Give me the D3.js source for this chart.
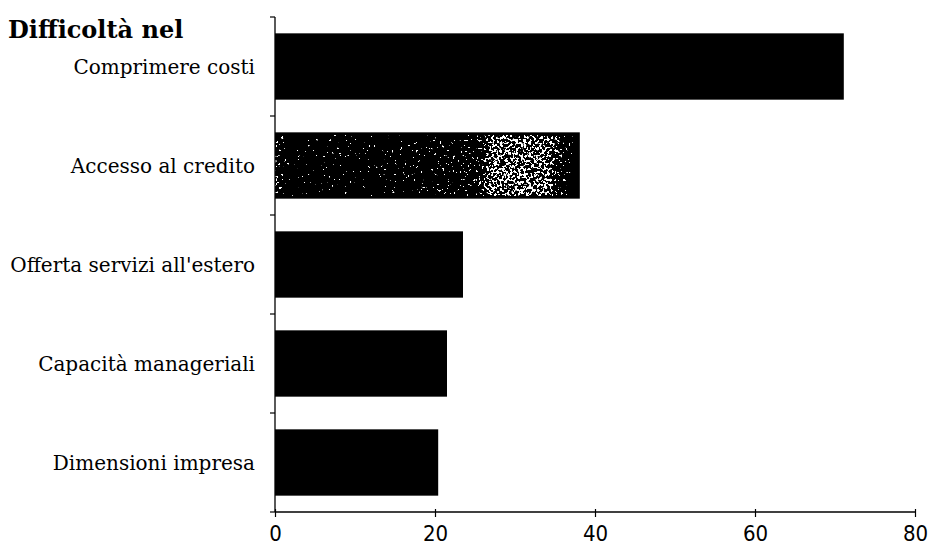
<!DOCTYPE html>
<html>
<head>
<meta charset="utf-8">
<script src="https://cdn.jsdelivr.net/npm/d3@7"></script>
<style>
  html, body { margin: 0; padding: 0; background: #fff; }
  svg { display: block; }
  .lbl { font-family: "DejaVu Serif", serif; font-size: 20px; fill: #000; }
  .tick-lbl { font-family: "Liberation Sans Narrow", "DejaVu Sans Condensed", sans-serif; font-size: 22px; fill: #000; }
  .title { font-family: "DejaVu Serif", serif; font-weight: bold; font-size: 24px; fill: #000; }
</style>
</head>
<body>
<svg id="chart" width="928" height="550"></svg>
<script>
// Categories, top to bottom
const categories = [
  "Comprimere costi",
  "Accesso al credito",
  "Offerta servizi all'estero",
  "Capacità manageriali",
  "Dimensioni impresa"
];
// Share of firms reporting each difficulty
const values = [71.1, 38.1, 23.5, 21.5, 20.4];
const xTicks = [0, 20, 40, 60, 80];
const titleText = "Difficoltà nel";
// The credit bar is printed with a grainy screen
const texturedCategory = "Accesso al credito";

const W = 928, H = 550;
const margin = { top: 17, right: 13, bottom: 38, left: 275 };

const svg = d3.select("#chart");

const x = d3.scaleLinear().domain([0, 80]).range([margin.left, W - margin.right]);
const y = d3.scaleBand().domain(categories)
  .range([margin.top, H - margin.bottom])
  .paddingInner(0.33).paddingOuter(0.165);

// Speckle filter for the textured bar: noise plus a density ramp, thresholded to white dots
const defs = svg.append("defs");
const grad = defs.append("linearGradient").attr("id", "speckleDensity")
  .attr("x1", 0).attr("x2", 1).attr("y1", 0).attr("y2", 0);
[[0, 0.7], [0.04, 0.3], [0.3, 0.3], [0.55, 0.45], [0.66, 0.5], [0.72, 1], [0.9, 1], [0.96, 0.5], [1, 0.2]]
  .forEach(([o, a]) => grad.append("stop").attr("offset", o)
    .attr("stop-color", "#fff").attr("stop-opacity", a));

const f = defs.append("filter").attr("id", "speckle")
  .attr("x", 0).attr("y", 0).attr("width", 1).attr("height", 1)
  .attr("color-interpolation-filters", "sRGB");
f.append("feTurbulence").attr("type", "fractalNoise")
  .attr("baseFrequency", 0.38).attr("numOctaves", 2).attr("seed", 7).attr("result", "noise");
f.append("feColorMatrix").attr("in", "noise").attr("type", "matrix")
  .attr("values", "1 0 0 0 0  1 0 0 0 0  1 0 0 0 0  0 0 0 0 1").attr("result", "grey");
f.append("feComposite").attr("in", "grey").attr("in2", "SourceGraphic")
  .attr("operator", "arithmetic").attr("k1", 0).attr("k2", 1).attr("k3", 0.3).attr("k4", 0)
  .attr("result", "mix");
f.append("feColorMatrix").attr("in", "mix").attr("type", "matrix")
  .attr("values", "0 0 0 0 1  0 0 0 0 1  0 0 0 0 1  40 0 0 0 -32.8");

// Bars
const bars = svg.append("g");
bars.selectAll("rect.bar")
  .data(categories.map((c, i) => ({ c, v: values[i] })))
  .join("rect")
  .attr("class", "bar")
  .attr("x", x(0))
  .attr("y", d => y(d.c))
  .attr("width", d => x(d.v) - x(0))
  .attr("height", y.bandwidth())
  .attr("fill", "#000");

const t = { c: texturedCategory, v: values[categories.indexOf(texturedCategory)] };
bars.append("rect")
  .attr("x", x(0))
  .attr("y", y(t.c) + 3)
  .attr("width", x(t.v) - x(0) - 3)
  .attr("height", y.bandwidth() - 6)
  .attr("fill", "url(#speckleDensity)")
  .attr("filter", "url(#speckle)");

// X axis
const xAxis = d3.axisBottom(x).tickValues(xTicks).tickSize(5).tickPadding(8)
  .tickFormat(d3.format("d"));
const gx = svg.append("g").attr("transform", `translate(0,${H - margin.bottom})`).call(xAxis);
gx.select(".domain").attr("d", `M${x(0)},0H${x(80)}`).attr("stroke", "#000").attr("stroke-width", 1.3);
gx.selectAll(".tick line").attr("stroke", "#000").attr("stroke-width", 1.2).attr("y1", -3);
gx.selectAll(".tick text").attr("class", "tick-lbl").attr("font-size", null).attr("font-family", null);

// Y axis: line with ticks at band boundaries, labels beside bars
const step = y.step();
const bounds = categories.map(c => y(c) - y.paddingInner() * step / 2)
  .concat([y(categories[categories.length - 1]) + y.bandwidth() + y.paddingInner() * step / 2]);
svg.append("line")
  .attr("x1", x(0)).attr("x2", x(0))
  .attr("y1", bounds[0]).attr("y2", H - margin.bottom)
  .attr("stroke", "#000").attr("stroke-width", 1.3);
svg.append("g").selectAll("line")
  .data(bounds)
  .join("line")
  .attr("x1", x(0) - 5).attr("x2", x(0))
  .attr("y1", d => d).attr("y2", d => d)
  .attr("stroke", "#000").attr("stroke-width", 1.2);

svg.append("g").selectAll("text")
  .data(categories)
  .join("text")
  .attr("class", "lbl")
  .attr("x", x(0) - 20)
  .attr("y", d => y(d) + y.bandwidth() / 2)
  .attr("dy", "0.35em")
  .attr("text-anchor", "end")
  .text(d => d);

svg.append("text")
  .attr("class", "title")
  .attr("x", 8).attr("y", 38)
  .text(titleText);
</script>
</body>
</html>
